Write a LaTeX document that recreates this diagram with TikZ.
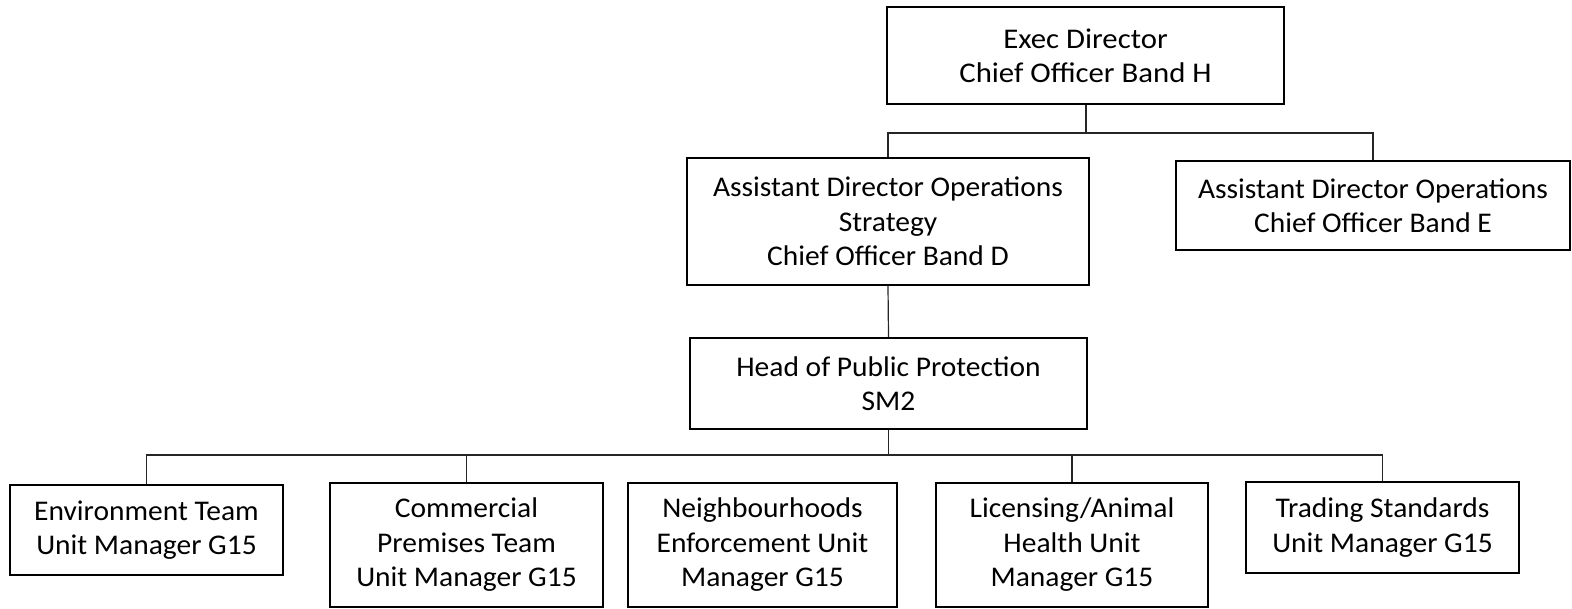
\documentclass[tikz,border=0pt]{standalone}
\usepackage{fontspec}
\setmainfont{Carlito}[FakeStretch=1.035]
\newfontfamily\execfont{Carlito}[FakeStretch=1.08]
\begin{document}
\begin{tikzpicture}[x=1pt,y=-1pt,
  box/.style={draw=black,line width=1.8pt,rectangle,inner sep=0pt,align=center,
    font=\fontsize{28.5}{34.5}\selectfont},
  conn/.style={draw=black!85,line width=1.2pt}]
\useasboundingbox (0,0) rectangle (1572,608);
\node[box,minimum width=397pt,minimum height=97pt,font=\execfont\fontsize{28.5}{34}\selectfont] (exec) at (1085.5,55.5) {Exec Director\\Chief Officer Band H};
\node[box,minimum width=402pt,minimum height=127pt] (strat) at (888,221.5) {Assistant Director Operations\\Strategy\\Chief Officer Band D};
\node[box,minimum width=394pt,minimum height=89pt] (opse) at (1373,205.5) {Assistant Director Operations\\Chief Officer Band E};
\node[box,minimum width=397pt,minimum height=91pt] (head) at (888.5,383.5) {Head of Public Protection\\SM2};
\node[box,minimum width=273pt,minimum height=90pt] (env) at (146.5,530) {Environment Team\\Unit Manager G15};
\node[box,minimum width=273pt,minimum height=124pt] (comm) at (466.5,545) {Commercial\\Premises Team\\Unit Manager G15};
\node[box,minimum width=269pt,minimum height=124pt] (neigh) at (762.5,545) {Neighbourhoods\\Enforcement Unit\\Manager G15};
\node[box,minimum width=272pt,minimum height=124pt] (lic) at (1072,545) {Licensing/Animal\\Health Unit\\Manager G15};
\node[box,minimum width=273pt,minimum height=91pt] (trad) at (1382.5,527.5) {Trading Standards\\Unit Manager G15};
% top tier connectors
\coordinate (busA) at (1086,133);
\draw[conn] (exec.south -| busA) -- (busA);
\draw[conn] (strat.north) |- (busA) -| (opse.north);
% strategy to head
\draw[conn] (strat.south) -- (head.north);
% bottom bus
\coordinate (busB) at (888.5,455);
\draw[conn] (head.south) -- (busB);
\draw[conn] (env.north) |- (busB);
\draw[conn] (comm.north) |- (busB);
\draw[conn] (busB) -| (lic.north);
\draw[conn] (busB) -| (trad.north);
\end{tikzpicture}
\end{document}
